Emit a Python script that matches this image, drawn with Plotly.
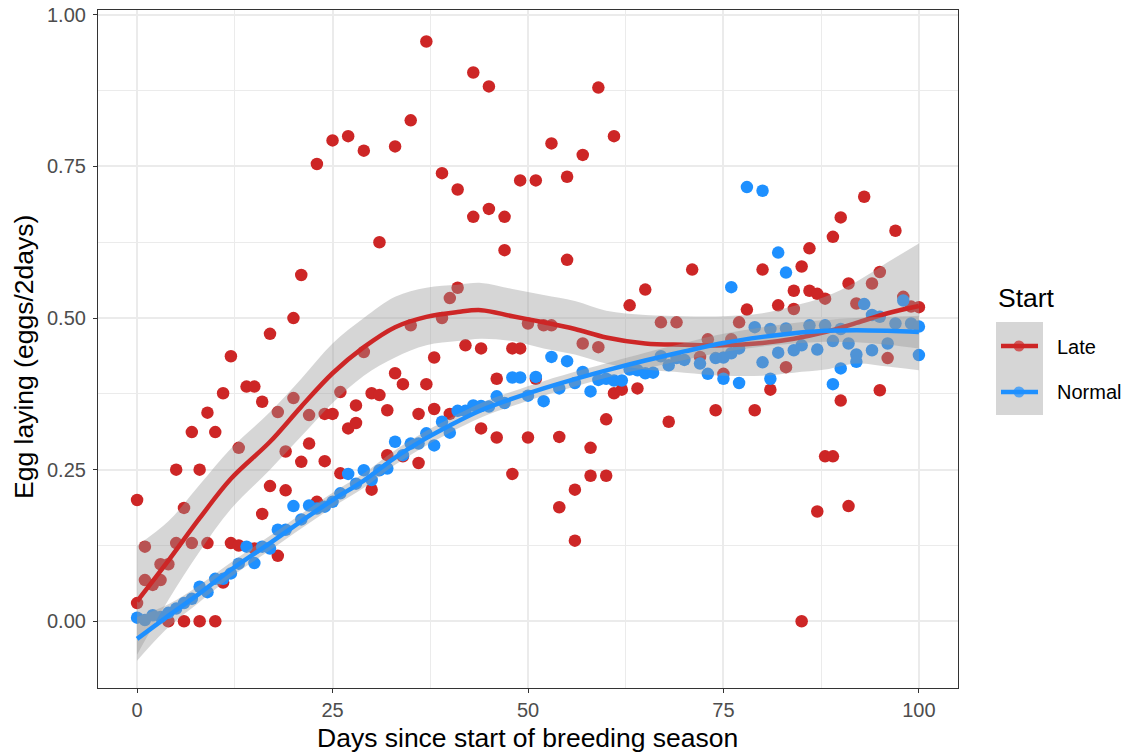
import plotly.graph_objects as go

# ---------------- data ----------------
late_day = [0, 0, 1, 1, 2, 3, 3, 4, 4, 5, 5, 6, 6, 7, 7, 8, 8, 9, 9, 10, 10,
            11, 11, 12, 12, 13, 13, 14, 15, 15, 16, 16, 17, 17, 18, 18, 19, 19, 20, 20,
            21, 21, 22, 22, 23, 23, 24, 24, 25, 25, 26, 26, 27, 27, 28, 28, 29, 29, 30, 30,
            31, 31, 32, 32, 33, 33, 34, 34, 35, 35, 36, 36, 37, 37, 38, 38, 39, 39, 40, 40,
            41, 41, 42, 43, 43, 44, 44, 45, 45, 46, 46, 47, 47, 48, 48, 49, 49, 50, 50,
            51, 51, 52, 53, 53, 54, 54, 55, 55, 56, 56, 57, 57, 58, 58, 59, 59, 60, 60,
            61, 61, 62, 63, 64, 65, 67, 68, 69, 71, 72, 73, 74, 75, 76, 77, 78, 79, 80,
            81, 82, 83, 84, 84, 85, 85, 86, 86, 87, 87, 88, 88, 89, 89, 90, 90, 91, 91,
            92, 93, 94, 95, 95, 96, 97, 98, 99, 100]
late_val = [0.20, 0.03, 0.123, 0.068, 0.06, 0.068, 0.094, 0.094, 0.0, 0.129, 0.25,
            0.187, 0.0, 0.312, 0.129, 0.25, 0.0, 0.344, 0.129, 0.312, 0.0,
            0.376, 0.064, 0.437, 0.129, 0.286, 0.125, 0.387, 0.387, 0.12, 0.362, 0.177,
            0.474, 0.223, 0.345, 0.108, 0.28, 0.216, 0.368, 0.50,
            0.571, 0.263, 0.293, 0.34, 0.754, 0.197, 0.342, 0.264, 0.793, 0.342,
            0.378, 0.244, 0.80, 0.318, 0.327, 0.356, 0.776, 0.444, 0.376, 0.217,
            0.625, 0.373, 0.348, 0.274, 0.783, 0.409, 0.391, 0.272, 0.826, 0.488,
            0.342, 0.261, 0.956, 0.391, 0.435, 0.35, 0.739, 0.50, 0.533, 0.342,
            0.712, 0.55, 0.455, 0.905, 0.667, 0.45, 0.318, 0.882, 0.68, 0.40, 0.303,
            0.667, 0.612, 0.45, 0.243, 0.727, 0.45, 0.491, 0.303,
            0.727, 0.40, 0.488, 0.788, 0.488, 0.304, 0.188, 0.733, 0.596, 0.217, 0.133,
            0.769, 0.458, 0.286, 0.24, 0.88, 0.452, 0.333, 0.24,
            0.80, 0.376, 0.382, 0.521, 0.384, 0.547, 0.493, 0.329, 0.493, 0.58, 0.436,
            0.465, 0.348, 0.408, 0.465, 0.493, 0.514, 0.348, 0.58,
            0.382, 0.521, 0.419, 0.545, 0.515, 0.585, 0.0, 0.615, 0.545, 0.54, 0.181,
            0.532, 0.272, 0.634, 0.272, 0.666, 0.364, 0.557, 0.19,
            0.524, 0.70, 0.557, 0.576, 0.381, 0.434, 0.644, 0.535, 0.519, 0.518]

normal_day = list(range(0, 71)) + [72, 73, 74, 75, 75, 76, 76, 77, 77, 78, 79, 80, 80,
                                    81, 81, 82, 82, 83, 83, 84, 85, 86, 87, 88, 89, 89,
                                    90, 90, 91, 92, 92, 93, 94, 94, 95, 96, 97, 98, 99,
                                    100, 100]
normal_val = [0.006, 0.002, 0.01, 0.007, 0.014, 0.021, 0.03, 0.037, 0.057, 0.048,
              0.07, 0.07, 0.079, 0.095, 0.123, 0.096, 0.123, 0.12, 0.151, 0.151,
              0.19, 0.168, 0.191, 0.186, 0.189, 0.197, 0.211, 0.243, 0.227, 0.249,
              0.233, 0.249, 0.252, 0.296, 0.274, 0.293, 0.293, 0.31, 0.29, 0.329,
              0.311, 0.347, 0.347, 0.356, 0.355, 0.354, 0.371, 0.36, 0.402, 0.402,
              0.372, 0.403, 0.363, 0.436, 0.384, 0.429, 0.393, 0.411, 0.379, 0.398,
              0.40, 0.397, 0.397, 0.415, 0.414, 0.409, 0.41, 0.437, 0.422, 0.434,
              0.431,
              0.425, 0.408, 0.434, 0.435, 0.40, 0.442, 0.551, 0.393, 0.45, 0.716,
              0.485, 0.71, 0.427, 0.482, 0.40, 0.608, 0.443, 0.483, 0.575, 0.447,
              0.455, 0.488, 0.448, 0.488, 0.462, 0.391, 0.482, 0.417, 0.458, 0.44,
              0.428, 0.523, 0.447, 0.505, 0.502, 0.458, 0.491, 0.529, 0.491,
              0.486, 0.439]

# smoothed curves and confidence bands
late_fit_day = [0, 4, 8, 12, 17, 21, 25, 29, 33, 37, 41, 44, 48, 52, 56, 60, 65,
                70, 75, 80, 84, 88, 92, 96, 100]
late_fit = [0.033, 0.10, 0.17, 0.235, 0.296, 0.354, 0.409, 0.452, 0.485, 0.502,
            0.51, 0.513, 0.503, 0.493, 0.482, 0.468, 0.458, 0.456, 0.455, 0.459,
            0.466, 0.477, 0.492, 0.508, 0.52]
late_lo = [-0.055, 0.035, 0.115, 0.185, 0.25, 0.305, 0.36, 0.405, 0.435, 0.455,
           0.462, 0.466, 0.462, 0.45, 0.44, 0.425, 0.415, 0.41, 0.405, 0.405,
           0.41, 0.415, 0.425, 0.42, 0.414]
late_hi = [0.125, 0.165, 0.225, 0.285, 0.345, 0.40, 0.458, 0.50, 0.535, 0.55,
           0.555, 0.558, 0.548, 0.538, 0.528, 0.512, 0.505, 0.503, 0.503, 0.508,
           0.52, 0.535, 0.56, 0.592, 0.623]

normal_fit_day = [0, 4, 8, 12, 17, 21, 25, 29, 33, 37, 40, 44, 48, 52, 57, 61, 65,
                  70, 75, 80, 84, 88, 92, 96, 100]
normal_fit = [-0.029, 0.009, 0.046, 0.085, 0.129, 0.165, 0.20, 0.232, 0.27, 0.302,
              0.323, 0.348, 0.367, 0.384, 0.403, 0.417, 0.43, 0.445, 0.459, 0.469,
              0.475, 0.479, 0.48, 0.479, 0.477]
normal_lo = [-0.065, -0.01, 0.032, 0.073, 0.117, 0.153, 0.188, 0.22, 0.258, 0.29,
             0.311, 0.336, 0.355, 0.372, 0.391, 0.405, 0.417, 0.431, 0.444, 0.453,
             0.458, 0.461, 0.46, 0.456, 0.45]
normal_hi = [0.007, 0.028, 0.06, 0.097, 0.141, 0.177, 0.212, 0.244, 0.282, 0.314,
             0.335, 0.36, 0.379, 0.396, 0.415, 0.429, 0.443, 0.459, 0.474, 0.485,
             0.492, 0.497, 0.50, 0.502, 0.504]

x_ticks = [0, 25, 50, 75, 100]
y_ticks = [0.0, 0.25, 0.5, 0.75, 1.0]
y_tick_text = ["0.00", "0.25", "0.50", "0.75", "1.00"]

RED = "#CD2626"
BLUE = "#1E90FF"
BAND = "rgba(153,153,153,0.4)"
FONT = "Liberation Sans, Arial, sans-serif"
TICK_SIZE = 20
TITLE_SIZE = 26.5

fig = go.Figure()

# points (drawn first, then smooths on top as in ggplot)
fig.add_trace(go.Scatter(x=late_day, y=late_val, mode="markers",
                         marker=dict(color=RED, size=12.5, line=dict(width=0)),
                         showlegend=False, hoverinfo="x+y"))
fig.add_trace(go.Scatter(x=normal_day, y=normal_val, mode="markers",
                         marker=dict(color=BLUE, size=12.5, line=dict(width=0)),
                         showlegend=False, hoverinfo="x+y"))


def add_smooth(days, fit, lo, hi, color):
    fig.add_trace(go.Scatter(x=days, y=lo, mode="lines",
                             line=dict(width=0, shape="spline", smoothing=1.0),
                             showlegend=False, hoverinfo="skip"))
    fig.add_trace(go.Scatter(x=days, y=hi, mode="lines", fill="tonexty", fillcolor=BAND,
                             line=dict(width=0, shape="spline", smoothing=1.0),
                             showlegend=False, hoverinfo="skip"))
    fig.add_trace(go.Scatter(x=days, y=fit, mode="lines",
                             line=dict(color=color, width=4.5, shape="spline", smoothing=1.0),
                             showlegend=False, hoverinfo="skip"))


add_smooth(late_fit_day, late_fit, late_lo, late_hi, RED)
add_smooth(normal_fit_day, normal_fit, normal_lo, normal_hi, BLUE)

grid = "#EBEBEB"
fig.update_xaxes(range=[-5, 105], tickvals=x_ticks, ticktext=[str(v) for v in x_ticks],
                 showgrid=True, gridcolor=grid, gridwidth=1.5,
                 minor=dict(dtick=12.5, tick0=0, showgrid=True, gridcolor=grid, gridwidth=0.8),
                 zeroline=False, showline=True, mirror=True, linecolor="#333333", linewidth=1.2,
                 ticks="outside", ticklen=4, tickwidth=1.2, tickcolor="#333333",
                 tickfont=dict(family=FONT, size=TICK_SIZE, color="#4D4D4D"))
fig.update_yaxes(range=[-0.11, 1.008], tickvals=y_ticks, ticktext=y_tick_text,
                 showgrid=True, gridcolor=grid, gridwidth=1.5,
                 minor=dict(dtick=0.125, tick0=0, showgrid=True, gridcolor=grid, gridwidth=0.8),
                 zeroline=False, showline=True, mirror=True, linecolor="#333333", linewidth=1.2,
                 ticks="outside", ticklen=4, tickwidth=1.2, tickcolor="#333333",
                 ticklabelstandoff=3,
                 tickfont=dict(family=FONT, size=TICK_SIZE, color="#4D4D4D"))

# layout helpers (pixel -> paper)
W, H = 1130, 753
L, R, T, B = 98, 172, 10, 65
pw, ph = W - L - R, H - T - B


def px(xp):
    return (xp - L) / pw


def py(yp):
    return (H - B - yp) / ph


# manual legend (ggplot style with grey key background)
shapes = [dict(type="rect", xref="paper", yref="paper",
               x0=px(996), x1=px(1043), y0=py(415), y1=py(322),
               fillcolor="#D6D6D6", line=dict(width=0), layer="above")]
for yp, col in [(346, RED), (392, BLUE)]:
    shapes.append(dict(type="line", xref="paper", yref="paper",
                       x0=px(1001), x1=px(1038), y0=py(yp), y1=py(yp),
                       line=dict(color=col, width=4.5), layer="above"))
    shapes.append(dict(type="circle", xref="paper", yref="paper",
                       x0=px(1013.5), x1=px(1024.5), y0=py(yp + 5.5), y1=py(yp - 5.5),
                       fillcolor=col, line=dict(width=0), opacity=0.7, layer="above"))

annotations = [
    dict(text="Days since start of breeding season", xref="paper", yref="paper",
         x=px(527), y=py(738), xanchor="center", yanchor="middle", showarrow=False,
         font=dict(family=FONT, size=TITLE_SIZE, color="black")),
    dict(text="Egg laying (eggs/2days)", xref="paper", yref="paper",
         x=px(24), y=py(357), xanchor="center", yanchor="middle", textangle=-90,
         showarrow=False, font=dict(family=FONT, size=TITLE_SIZE, color="black")),
    dict(text="Start", xref="paper", yref="paper", x=px(996), y=py(298),
         xanchor="left", yanchor="middle", showarrow=False,
         font=dict(family=FONT, size=TITLE_SIZE, color="black")),
    dict(text="Late", xref="paper", yref="paper", x=px(1055), y=py(347),
         xanchor="left", yanchor="middle", showarrow=False,
         font=dict(family=FONT, size=TICK_SIZE, color="black")),
    dict(text="Normal", xref="paper", yref="paper", x=px(1055), y=py(392),
         xanchor="left", yanchor="middle", showarrow=False,
         font=dict(family=FONT, size=TICK_SIZE, color="black")),
]

fig.update_layout(width=W, height=H, margin=dict(l=L, r=R, t=T, b=B, autoexpand=False),
                  paper_bgcolor="white", plot_bgcolor="white", showlegend=False,
                  shapes=shapes, annotations=annotations,
                  font=dict(family=FONT))

fig.write_html("out.html")
